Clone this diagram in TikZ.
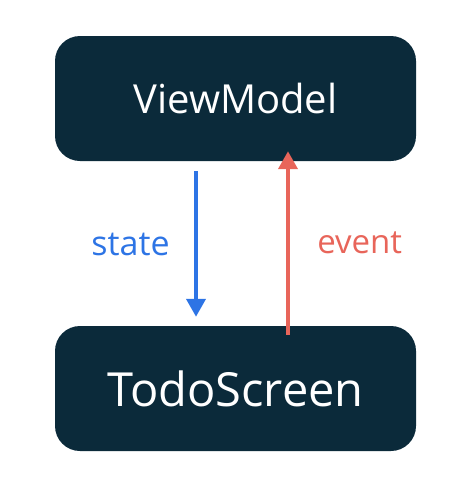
\documentclass[tikz,border=0pt]{standalone}
\usepackage{fontspec}
\setmainfont{Open Sans}
\usetikzlibrary{arrows.meta}
\definecolor{navy}{HTML}{0B2A3A}
\definecolor{stateblue}{HTML}{2D74E5}
\definecolor{eventred}{HTML}{E8655A}
\tikzset{
  layer/.style={fill=navy, rounded corners=25pt, minimum width=361pt, minimum height=125pt, inner sep=0pt, text=white},
  flow/.style={line width=4pt, -{Triangle[width=19pt,length=18pt]}}
}
\begin{document}
\begin{tikzpicture}[x=1pt,y=-1pt]
\useasboundingbox (0,0) rectangle (461,498);
\node[layer, font=\fontsize{40}{40}\selectfont] (vm) at (235.5,98.5) {ViewModel};
\node[layer, font=\fontsize{47}{47}\selectfont] (ts) at (235.5,388.5) {TodoScreen};
\draw[flow, stateblue] ([xshift=-39.5pt,yshift=-10pt]vm.south) -- ([xshift=-39.5pt,yshift=9pt]ts.north)
  node[midway, left=21pt, text=stateblue, font=\fontsize{34}{34}\selectfont] (st) {state};
\draw[flow, eventred] ([xshift=52.5pt,yshift=-9pt]ts.north) -- ([xshift=52.5pt,yshift=10pt]vm.south)
  node[midway, right=24pt, text=eventred, font=\fontsize{33}{33}\selectfont] (ev) {event};
\end{tikzpicture}
\end{document}
